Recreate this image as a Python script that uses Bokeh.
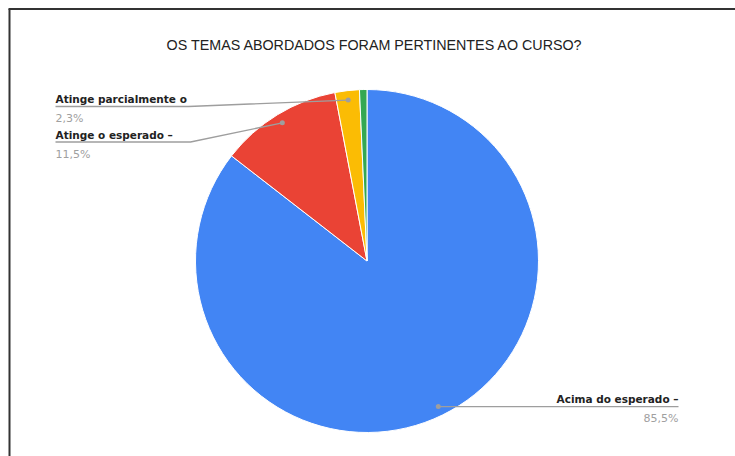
import math
from bokeh.plotting import figure
from bokeh.models import Range1d, ColumnDataSource
from bokeh.core.properties import value
from bokeh.embed import file_html
from bokeh.resources import INLINE

# ---- data ----
title_text = "OS TEMAS ABORDADOS FORAM PERTINENTES AO CURSO?"
categories = ["Acima do esperado", "Atinge o esperado", "Atinge parcialmente o esperado", "Não atinge o esperado"]
label_texts = ["Acima do esperado –", "Atinge o esperado –", "Atinge parcialmente o", ""]
percents = [85.5, 11.5, 2.3, 0.7]
percent_labels = ["85,5%", "11,5%", "2,3%", ""]
colors = ["#4285F4", "#EA4335", "#FBBC04", "#34A853"]

# ---- layout (page pixels -> data units, 1 unit = 1 px) ----
W, H = 735, 456
def X(px):
    return px
def Y(py):
    return H - py

CX, CY, R = X(366.5), Y(260.5), 171.5
DOT_R = 0.945 * R

# label layout per slice: (side, line y in page px or None = dot y, elbow x, end x)
label_layout = {
    0: ("right", None, None, 678),
    1: ("left", 141.5, 190, 55),
    2: ("left", 106, 188, 55),
}

p = figure(width=W, height=H, x_range=Range1d(0, W), y_range=Range1d(0, H),
           output_backend="svg", toolbar_location=None, min_border=0,
           x_axis_location=None, y_axis_location=None)
p.grid.visible = False
p.outline_line_color = None
p.background_fill_color = "white"
p.border_fill_color = "white"

# frame lines (left and top of the chart box)
p.segment(x0=[X(9), X(8)], y0=[Y(8.5), Y(8.5)], x1=[X(9), X(735)], y1=[Y(456), Y(8.5)],
          line_color="#333333", line_width=2)

# pie wedges
total = sum(percents)
starts, ends, mids = [], [], []
cum = 0.0
for v in percents:
    a0 = math.pi / 2 - 2 * math.pi * cum / total
    cum += v
    a1 = math.pi / 2 - 2 * math.pi * cum / total
    starts.append(a0)
    ends.append(a1)
    mids.append((a0 + a1) / 2)

src = ColumnDataSource(dict(start=starts, end=ends, color=colors, cat=categories))
p.wedge(x=CX, y=CY, radius=R, start_angle="start", end_angle="end", direction="clock",
        fill_color="color", line_color="white", line_width=1, source=src)

# title
p.text(x=[X(374.5)], y=[Y(44.5)], text=[title_text], text_align="center",
       text_baseline="alphabetic", text_font=value("Liberation Sans"),
       text_font_size="14.3px", text_color="#222222")

# labels with leader lines
for i, (side, line_py, elbow_px, end_px) in label_layout.items():
    dx = CX + DOT_R * math.cos(mids[i])
    dy = CY + DOT_R * math.sin(mids[i])
    ly = dy if line_py is None else Y(line_py)
    if elbow_px is None:
        xs = [dx, X(end_px)]
        ys = [dy, ly]
    else:
        xs = [dx, X(elbow_px), X(end_px)]
        ys = [dy, ly, ly]
    p.line(xs, ys, line_color="#9e9e9e", line_width=1.3)
    p.scatter([dx], [dy], size=5, marker="circle", fill_color="#9e9e9e", line_color=None)
    align = "right" if side == "right" else "left"
    p.text(x=[X(end_px)], y=[ly + 7.5], text=[label_texts[i]], text_align=align,
           text_baseline="alphabetic", text_font=value("DejaVu Sans"),
           text_font_size="10.5px", text_font_style="bold", text_color="#222222")
    p.text(x=[X(end_px)], y=[ly - 12], text=[percent_labels[i]], text_align=align,
           text_baseline="alphabetic", text_font=value("DejaVu Sans"),
           text_font_size="11px", text_color="#a0a0a0")

open("out.html", "w").write(file_html(p, INLINE))
